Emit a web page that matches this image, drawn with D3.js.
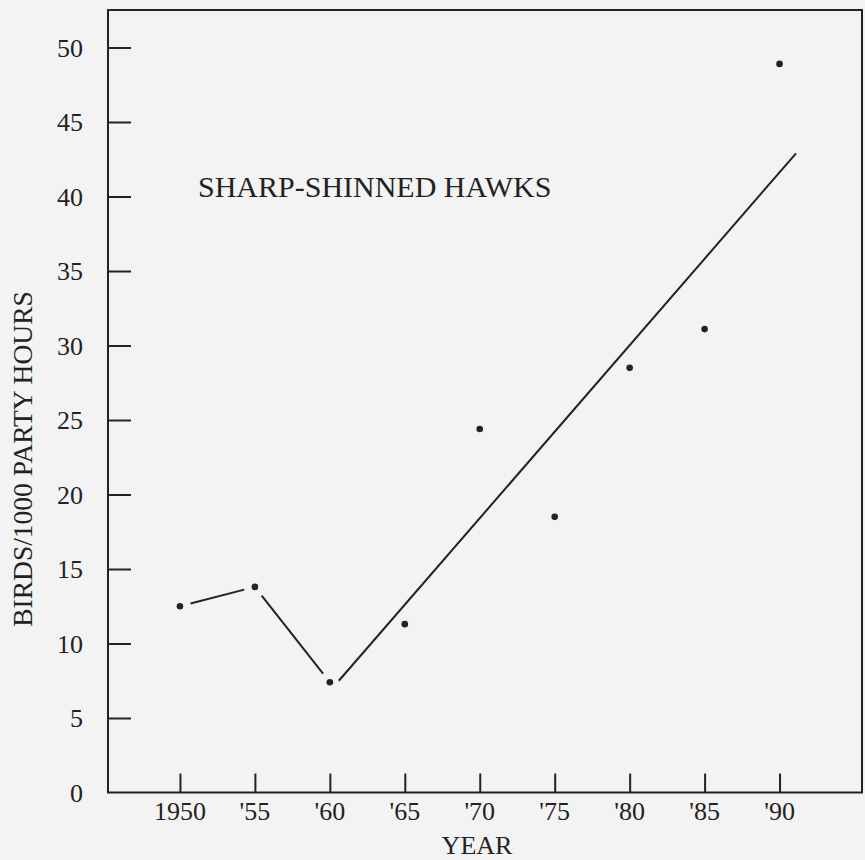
<!DOCTYPE html>
<html lang="en">
<head>
	<meta charset="UTF-8">
	<title>sharp-shinned hawks</title>
	<script src="https://d3js.org/d3.v7.min.js"></script>
	<style>
		body { margin: 0; background: #f3f3f3; }
		svg { display: block; }
		text { font-family: "Liberation Serif", "Times New Roman", serif; fill: #222; }
	</style>
</head>
<body>
	<svg id="content" width="865" height="860"></svg>
<script>
	// values
	var years = [1950, 1955, 1960, 1965, 1970, 1975, 1980, 1985, 1990];
	var birds = [12.5, 13.8, 7.4, 11.3, 24.4, 18.5, 28.5, 31.1, 48.9];
	// first three points are joined by a broken line
	var joined = 3;
	// fitted line ends
	var trendYears = [1960.6, 1991.1];
	var trendBirds = [7.5, 42.9];
	var xTicks = [1950, 1955, 1960, 1965, 1970, 1975, 1980, 1985, 1990];
	var xTickLabels = ["1950", "'55", "'60", "'65", "'70", "'75", "'80", "'85", "'90"];
	var yTicks = [0, 5, 10, 15, 20, 25, 30, 35, 40, 45, 50];

	var plotLeft = 108, plotRight = 862, plotTop = 10, plotBottom = 792.5;
	var ink = "#222";

	var svg = d3.select("#content");

	var x = d3.scaleLinear().domain([1945.2, 1995.5]).range([plotLeft, plotRight]);
	var y = d3.scaleLinear().domain([0, 50]).range([plotBottom, 47.5]);

	// frame
	svg.append("rect")
		.attr("x", plotLeft).attr("y", plotTop)
		.attr("width", plotRight - plotLeft).attr("height", plotBottom - plotTop)
		.attr("fill", "none").attr("stroke", ink).attr("stroke-width", 2);

	// axes, ticks pointing inward
	svg.append("g")
		.attr("transform", "translate(" + plotLeft + ",0)")
		.call(d3.axisRight(y).tickValues(yTicks.slice(1)).tickSize(23).tickFormat(""));
	svg.append("g")
		.attr("transform", "translate(0," + plotBottom + ")")
		.call(d3.axisTop(x).tickValues(xTicks).tickSize(19).tickFormat(""));
	svg.selectAll(".domain").remove();
	svg.selectAll(".tick line").attr("stroke", ink).attr("stroke-width", 2);

	svg.selectAll(".ylab")
		.data(yTicks)
		.enter()
		.append("text")
		.attr("class", "ylab")
		.attr("x", 83)
		.attr("y", function(d){ return y(d); })
		.attr("dy", "0.35em")
		.attr("text-anchor", "end")
		.attr("font-size", 26)
		.text(function(d){ return d; });

	svg.selectAll(".xlab")
		.data(xTicks)
		.enter()
		.append("text")
		.attr("class", "xlab")
		.attr("x", function(d){ return x(d); })
		.attr("y", 820)
		.attr("text-anchor", "middle")
		.attr("font-size", 26)
		.text(function(d, i){ return xTickLabels[i]; });

	svg.append("text")
		.attr("x", 477).attr("y", 854)
		.attr("text-anchor", "middle")
		.attr("font-size", 26)
		.text("YEAR");

	svg.append("text")
		.attr("transform", "translate(32,459) rotate(-90)")
		.attr("text-anchor", "middle")
		.attr("font-size", 27.5)
		.text("BIRDS/1000 PARTY HOURS");

	svg.append("text")
		.attr("x", 198).attr("y", 197)
		.attr("font-size", 30)
		.text("SHARP-SHINNED HAWKS");

	// broken line between the early points, with a gap at each dot
	var gap = 11;
	var segs = [];
	for (var i = 0; i < joined - 1; i++) {
		var x1 = x(years[i]), y1 = y(birds[i]);
		var x2 = x(years[i + 1]), y2 = y(birds[i + 1]);
		var len = Math.sqrt((x2 - x1) * (x2 - x1) + (y2 - y1) * (y2 - y1));
		var ux = (x2 - x1) / len, uy = (y2 - y1) / len;
		segs.push({x1: x1 + ux * gap, y1: y1 + uy * gap, x2: x2 - ux * gap, y2: y2 - uy * gap});
	}
	svg.selectAll(".seg")
		.data(segs)
		.enter()
		.append("line")
		.attr("class", "seg")
		.attr("x1", function(d){ return d.x1; })
		.attr("y1", function(d){ return d.y1; })
		.attr("x2", function(d){ return d.x2; })
		.attr("y2", function(d){ return d.y2; })
		.attr("stroke", ink)
		.attr("stroke-width", 2);

	svg.append("line")
		.attr("x1", x(trendYears[0])).attr("y1", y(trendBirds[0]))
		.attr("x2", x(trendYears[1])).attr("y2", y(trendBirds[1]))
		.attr("stroke", ink)
		.attr("stroke-width", 2);

	svg.selectAll(".dot")
		.data(years)
		.enter()
		.append("circle")
		.attr("class", "dot")
		.attr("cx", function(d){ return x(d); })
		.attr("cy", function(d, i){ return y(birds[i]); })
		.attr("r", 3.3)
		.attr("fill", ink);
</script>
</body>
</html>
